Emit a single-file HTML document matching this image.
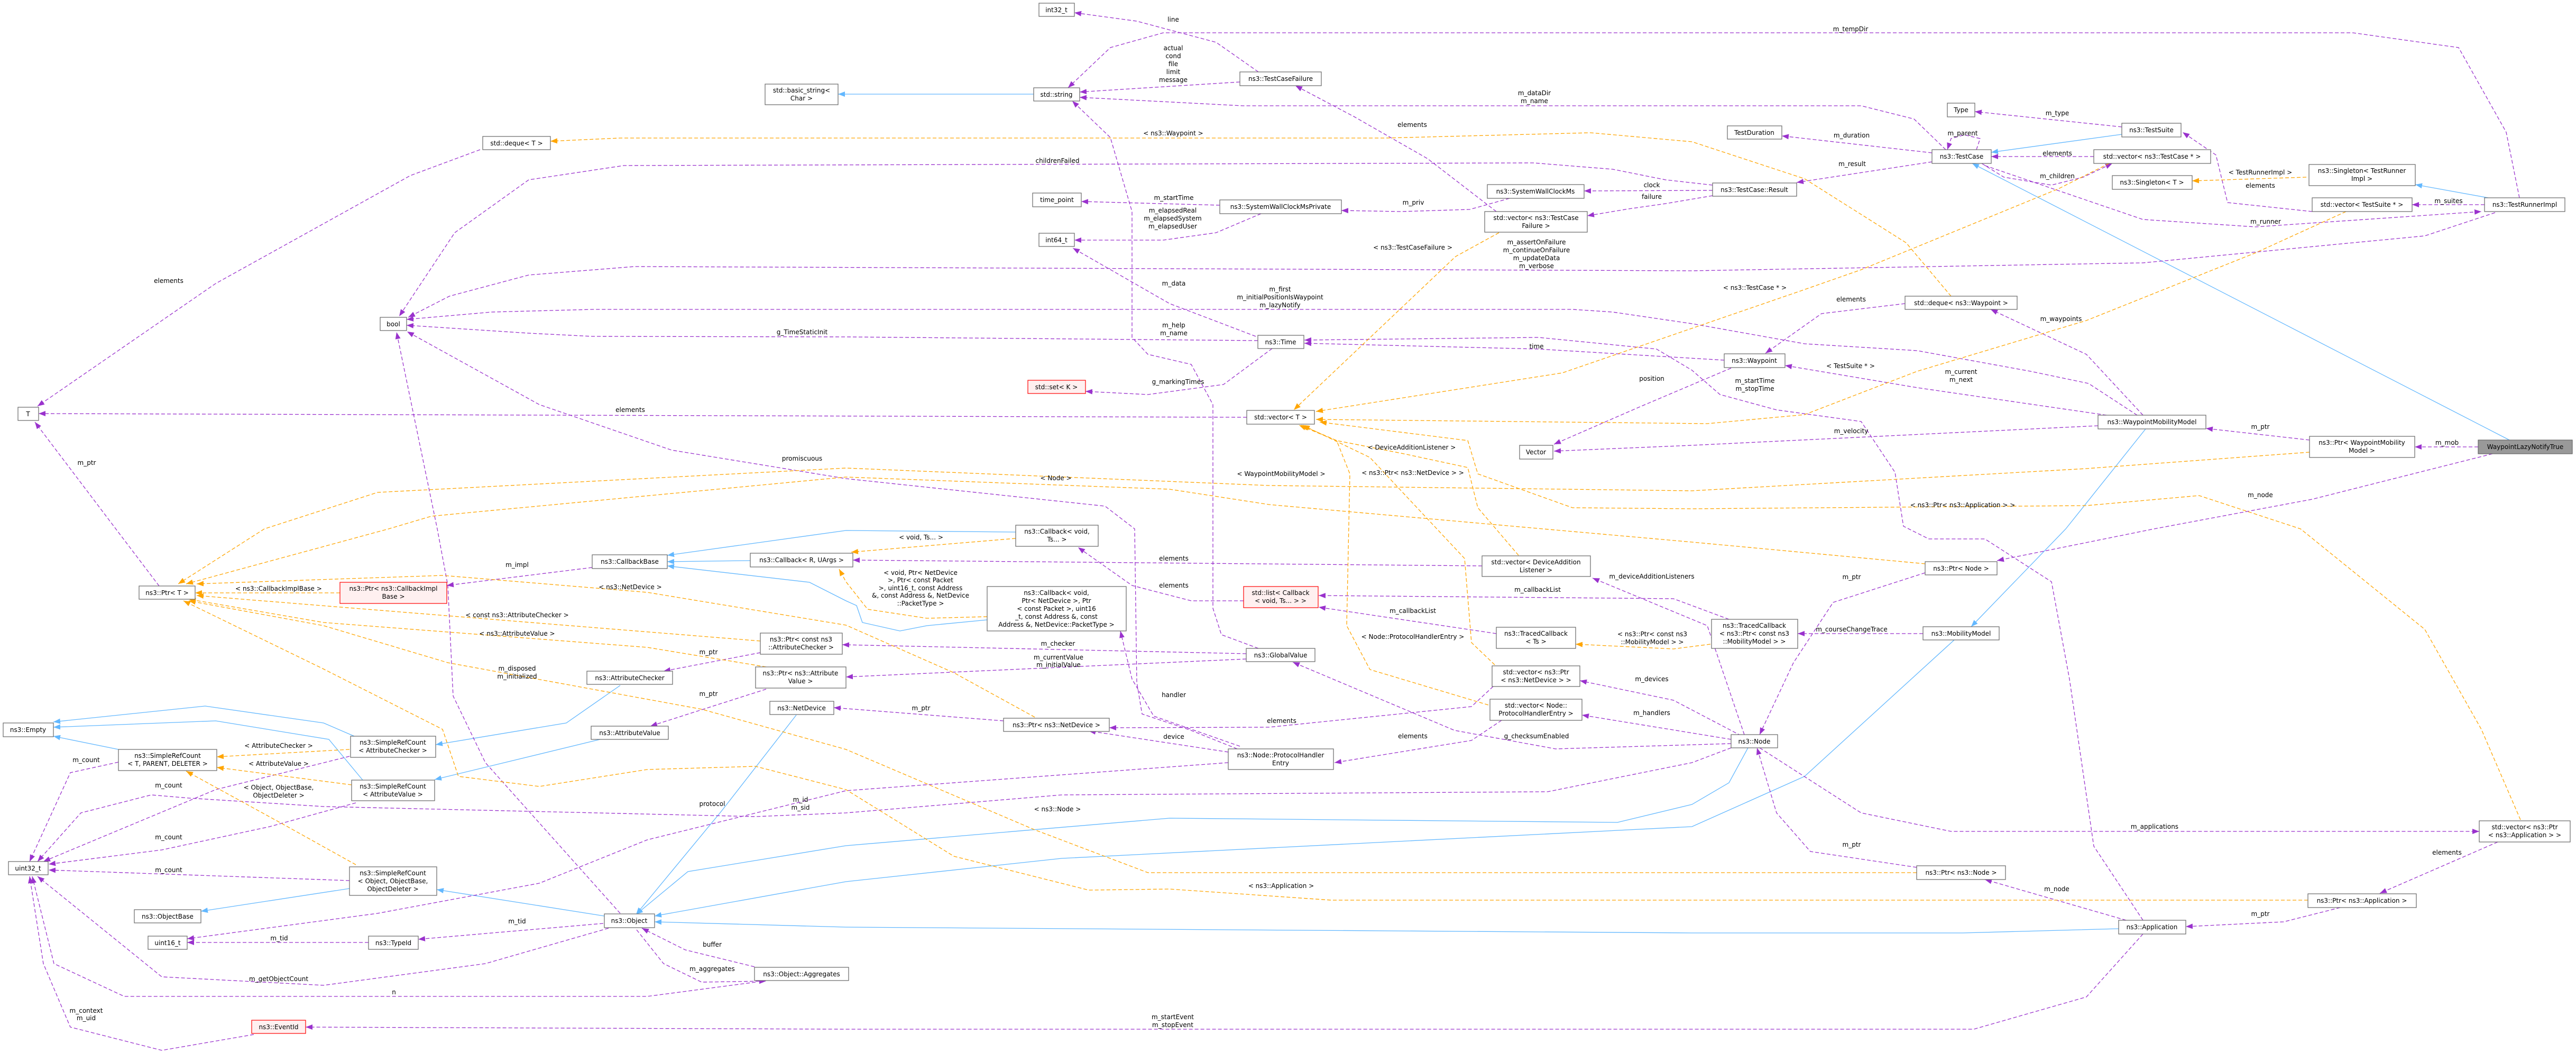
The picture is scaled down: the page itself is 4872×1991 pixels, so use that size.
<!DOCTYPE html>
<html><head><meta charset="utf-8"><style>
html,body{margin:0;padding:0;background:#fff;}
svg{display:block;}
text{font-family:"DejaVu Sans","Liberation Sans",sans-serif;font-size:12px;fill:#000;}
.n rect{fill:#fff;stroke:#666;stroke-width:1.2;}
.r rect{fill:#fff0f0;stroke:#f00;stroke-width:1.2;}
.g rect{fill:#999;stroke:#666;stroke-width:1.2;}
.p{fill:none;stroke:#9a32cd;stroke-width:1.3;stroke-dasharray:7,4;marker-end:url(#ap);}
.o{fill:none;stroke:#ffa500;stroke-width:1.3;stroke-dasharray:7,4;marker-end:url(#ao);}
.b{fill:none;stroke:#63b8ff;stroke-width:1.3;marker-end:url(#ab);}
.c{text-anchor:middle;}
</style></head><body>
<svg width="4872" height="1991" viewBox="0 0 4872 1991" xmlns="http://www.w3.org/2000/svg">
<defs>
<marker id="ap" markerUnits="userSpaceOnUse" markerWidth="14" markerHeight="12" refX="13" refY="6" orient="auto"><path d="M0,1 L13,6 L0,11 z" fill="#9a32cd"/></marker>
<marker id="ao" markerUnits="userSpaceOnUse" markerWidth="14" markerHeight="12" refX="13" refY="6" orient="auto"><path d="M0,1 L13,6 L0,11 z" fill="#ffa500"/></marker>
<marker id="ab" markerUnits="userSpaceOnUse" markerWidth="14" markerHeight="12" refX="13" refY="6" orient="auto"><path d="M0,1 L13,6 L0,11 z" fill="#63b8ff"/></marker>
</defs>

<!-- blue inheritance -->
<path class="b" d="M1955,178 L1585,178"/>
<path class="b" d="M4013,254 L3766,288"/>
<path class="b" d="M4746,832 L3730,309"/>
<path class="b" d="M4706,374 L4568,349"/>
<path class="b" d="M4058,811 L3907,1000 L3728,1185"/>
<path class="b" d="M3306,1414 L3270,1480 L3200,1521 L3059,1555 L2212,1547 L1600,1599 L1301,1648 L1203,1729"/>
<path class="b" d="M3696,1210 L3413,1468 L3200,1563 L2008,1623 L1600,1667 L1238,1732"/>
<path class="b" d="M4007,1756 L3712,1764 L3200,1764 L1600,1753 L1238,1743"/>
<path class="b" d="M1506,1352 L1365,1533 L1203,1729"/>
<path class="b" d="M1143,1732 L826,1682"/>
<path class="b" d="M661,1680 L380,1723"/>
<path class="b" d="M670,1392 L612,1367 L388,1335 L101,1365"/>
<path class="b" d="M686,1475 L622,1398 L408,1363 L101,1375"/>
<path class="b" d="M224,1417 L101,1392"/>
<path class="b" d="M1173,1296 L1071,1367 L824,1408"/>
<path class="b" d="M1135,1398 L822,1474"/>
<path class="b" d="M1419,1060 L1262,1062"/>
<path class="b" d="M1921,1006 L1600,1003 L1262,1050"/>
<path class="b" d="M1867,1172 L1753,1183 L1702,1193 L1631,1177 L1620,1145 L1600,1136 L1531,1101 L1262,1070"/>

<!-- purple -->
<path class="p" d="M2380,136 L2300,80 L2150,40 L2032,24"/>
<path class="p" d="M2345,155 L2042,174"/>
<path class="p" d="M4765,374 L4740,250 L4650,90 L4450,62 L2340,62 L2200,62 L2100,90 L2020,166"/>
<path class="p" d="M3680,283 L3620,225 L3520,200 L3400,200 L2350,200 L2042,184"/>
<path class="p" d="M2830,400 L2700,300 L2560,220 L2450,162"/>
<path class="p" d="M2307,388 L2045,381"/>
<path class="p" d="M2385,404 L2300,440 L2200,454 L2032,454"/>
<path class="p" d="M2855,375 L2780,396 L2650,400 L2537,398"/>
<path class="p" d="M3239,360 L2996,361"/>
<path class="p" d="M3239,370 L3150,385 L3080,395 L3002,408"/>
<path class="p" d="M3654,306 L3398,345"/>
<path class="p" d="M3654,289 L3370,257"/>
<path class="p" d="M3738,283 L3745,262 L3715,255 L3690,262 L3683,283"/>
<path class="p" d="M4013,240 L3735,211"/>
<path class="p" d="M3960,296 L3766,296"/>
<path class="p" d="M3748,309 L3790,335 L3880,350 L3940,335 L3995,309"/>
<path class="p" d="M4373,400 L4213,383 L4191,293 L4128,250"/>
<path class="p" d="M4699,387 L4562,387"/>
<path class="p" d="M3754,313 L4053,415 L4266,429 L4693,400"/>
<path class="p" d="M4719,402 L4586,446 L4053,497 L3200,512 L1200,504 L1000,520 L850,560 L772,600"/>
<path class="p" d="M3239,350 L3150,340 L3050,320 L2900,308 L1180,313 L1000,340 L860,440 L755,598"/>
<path class="p" d="M2379,644 L1600,637 L1120,636 L1000,630 L769,615"/>
<path class="p" d="M4042,785 L3950,725 L3840,702 L3626,663 L3413,650 L3200,612 L3050,590 L2974,585 L1122,585 L930,590 L769,604"/>
<path class="p" d="M2375,636 L2212,574 L2029,469"/>
<path class="p" d="M2406,659 L2314,727 L2171,746 L2053,740"/>
<path class="p" d="M3261,681 L2910,660 L2467,649"/>
<path class="p" d="M4053,1740 L3960,1600 L3914,1284 L3880,1100 L3754,1019 L3648,1019 L3600,995 L3584,893 L3520,797 L3360,775 L3253,746 L3200,700 L3133,660 L2910,638 L2467,643"/>
<path class="p" d="M3274,696 L3102,769 L2939,840"/>
<path class="p" d="M3968,805 L3200,842 L2939,853"/>
<path class="p" d="M3984,785 L3626,733 L3376,691"/>
<path class="p" d="M3603,574 L3445,593 L3339,668"/>
<path class="p" d="M4053,785 L3946,670 L3765,585"/>
<path class="p" d="M4368,832 L4172,810"/>
<path class="p" d="M4687,845 L4567,845"/>
<path class="p" d="M4714,858 L4373,944 L4074,1000 L3777,1060"/>
<path class="p" d="M3641,1083 L3467,1139 L3392,1253 L3328,1389"/>
<path class="p" d="M3637,1198 L3400,1198"/>
<path class="p" d="M3299,1389 L3229,1183 L3012,1093"/>
<path class="p" d="M3270,1171 L3165,1132 L2494,1126"/>
<path class="p" d="M2830,1198 L2494,1148"/>
<path class="p" d="M3293,1391 L3165,1324 L2988,1287"/>
<path class="p" d="M3274,1398 L2992,1352"/>
<path class="p" d="M3274,1406 L2942,1416 L2751,1381 L2445,1252"/>
<path class="p" d="M2840,1362 L2783,1400 L2524,1442"/>
<path class="p" d="M2824,1298 L2783,1336 L2400,1375 L2098,1376"/>
<path class="p" d="M2323,1422 L2059,1382"/>
<path class="p" d="M2345,1411 L2182,1354 L2141,1284 L2119,1193"/>
<path class="p" d="M2352,1136 L2253,1136 L2141,1107 L2039,1035"/>
<path class="p" d="M2803,1070 L1613,1059"/>
<path class="p" d="M2357,1236 L1593,1219"/>
<path class="p" d="M2357,1246 L1600,1280"/>
<path class="p" d="M1898,1363 L1577,1338"/>
<path class="p" d="M1438,1234 L1255,1269"/>
<path class="p" d="M1449,1303 L1230,1373"/>
<path class="p" d="M1120,1073 L845,1107"/>
<path class="p" d="M301,1108 L219,1000 L66,798"/>
<path class="p" d="M908,283 L776,332 L408,536 L71,768"/>
<path class="p" d="M2358,789 L73,782"/>
<path class="p" d="M2380,1226 L2310,1200 L2294,1150 L2294,765 L2253,689 L2171,670 L2141,638 L2141,400 L2100,260 L2028,191"/>
<path class="p" d="M2340,1416 L2250,1380 L2160,1350 L2150,1290 L2146,1000 L2090,957 L1600,905 L1270,851 L1020,765 L770,627"/>
<path class="p" d="M1173,1727 L918,1442 L857,1316 L847,1107 L827,1000 L750,628"/>
<path class="p" d="M2323,1442 L1600,1495 L1224,1588 L1020,1670 L714,1727 L354,1775"/>
<path class="p" d="M3274,1414 L3200,1442 L2927,1497 L2008,1503 L1600,1537 L1429,1544 L612,1525 L357,1509 L286,1503 L153,1537 L71,1629"/>
<path class="p" d="M224,1441 L133,1461 L56,1629"/>
<path class="p" d="M661,1430 L408,1493 L82,1629"/>
<path class="p" d="M673,1518 L510,1563 L306,1607 L92,1634"/>
<path class="p" d="M661,1665 L92,1645"/>
<path class="p" d="M1151,1755 L918,1822 L612,1863 L306,1847 L71,1657"/>
<path class="p" d="M1429,1857 L1224,1884 L235,1884 L102,1822 L61,1657"/>
<path class="p" d="M480,1956 L306,1986 L133,1942 L82,1822 L56,1657"/>
<path class="p" d="M1141,1746 L791,1776"/>
<path class="p" d="M697,1782 L354,1782"/>
<path class="p" d="M1427,1828 L1296,1796 L1214,1755"/>
<path class="p" d="M1204,1758 L1255,1822 L1327,1857 L1449,1855"/>
<path class="p" d="M4053,1766 L3946,1885 L3733,1946 L3200,1946 L1600,1946 L578,1942"/>
<path class="p" d="M3328,1414 L3520,1537 L3690,1572 L4689,1572"/>
<path class="p" d="M4724,1592 L4501,1689"/>
<path class="p" d="M4426,1716 L4319,1743 L4134,1752"/>
<path class="p" d="M4021,1740 L3754,1663"/>
<path class="p" d="M3625,1640 L3424,1610 L3360,1537 L3323,1414"/>

<!-- orange -->
<path class="o" d="M3690,560 L3605,459 L3413,338 L3200,268 L3008,251 L2620,261 L1600,261 L1173,261 L1041,267"/>
<path class="o" d="M2835,440 L2753,485 L2447,775"/>
<path class="o" d="M3989,309 L3893,357 L3520,510 L3400,552 L2955,705 L2489,778"/>
<path class="o" d="M4437,400 L4266,478 L3946,606 L3626,702 L3413,784 L3229,801 L2489,793"/>
<path class="o" d="M4362,335 L4146,342"/>
<path class="o" d="M2872,1050 L2795,960 L2776,884 L2655,858 L2528,833 L2461,804"/>
<path class="o" d="M2827,1257 L2783,1215 L2770,1056 L2591,865 L2464,804"/>
<path class="o" d="M2815,1333 L2591,1266 L2547,1183 L2553,896 L2528,833 L2457,804"/>
<path class="o" d="M4767,1550 L4693,1379 L4586,1190 L4351,1000 L4159,937 L3946,956 L3200,962 L2974,960 L2795,896 L2776,833 L2496,798"/>
<path class="o" d="M4368,855 L3946,886 L3200,928 L2400,918 L1600,885 L714,931 L500,1000 L337,1104"/>
<path class="o" d="M3641,1066 L3200,1025 L2400,954 L2212,925 L1600,902 L816,976 L735,1000 L352,1104"/>
<path class="o" d="M643,1121 L369,1121"/>
<path class="o" d="M1957,1356 L1804,1272 L1600,1182 L1224,1120 L837,1088 L372,1104"/>
<path class="o" d="M1438,1212 L372,1126"/>
<path class="o" d="M1449,1261 L1224,1224 L612,1177 L357,1133"/>
<path class="o" d="M3625,1650 L3200,1650 L2171,1650 L1957,1569 L1600,1417 L1327,1341 L847,1253 L612,1183 L357,1136"/>
<path class="o" d="M4365,1702 L3200,1702 L2518,1702 L2212,1681 L2059,1683 L1804,1619 L1600,1493 L1429,1449 L1224,1455 L1020,1487 L867,1468 L837,1379 L612,1265 L347,1136"/>
<path class="o" d="M661,1417 L410,1431"/>
<path class="o" d="M665,1484 L410,1451"/>
<path class="o" d="M673,1635 L531,1556 L352,1458"/>
<path class="o" d="M1921,1018 L1610,1044"/>
<path class="o" d="M1867,1166 L1753,1169 L1641,1152 L1600,1100 L1587,1076"/>
<path class="o" d="M3235,1218 L3165,1227 L2980,1218"/>

<!-- edge labels -->
<g class="c">
<text x="2219" y="41">line</text>
<text x="2219" y="95">actual</text><text x="2219" y="110">cond</text><text x="2219" y="125">file</text><text x="2219" y="140">limit</text><text x="2219" y="155">message</text>
<text x="3500" y="59">m_tempDir</text>
<text x="2902" y="180">m_dataDir</text><text x="2902" y="195">m_name</text>
<text x="2671" y="240">elements</text>
<text x="2219" y="256">&lt; ns3::Waypoint &gt;</text>
<text x="2000" y="308">childrenFailed</text>
<text x="2220" y="378">m_startTime</text>
<text x="2218" y="402">m_elapsedReal</text><text x="2218" y="417">m_elapsedSystem</text><text x="2218" y="432">m_elapsedUser</text>
<text x="2673" y="387">m_priv</text>
<text x="3124" y="354">clock</text>
<text x="3124" y="376">failure</text>
<text x="2672" y="472">&lt; ns3::TestCaseFailure &gt;</text>
<text x="2906" y="462">m_assertOnFailure</text><text x="2906" y="477">m_continueOnFailure</text><text x="2906" y="492">m_updateData</text><text x="2906" y="507">m_verbose</text>
<text x="2220" y="540">m_data</text>
<text x="2421" y="551">m_first</text><text x="2421" y="566">m_initialPositionIsWaypoint</text><text x="2421" y="581">m_lazyNotify</text>
<text x="2220" y="619">m_help</text><text x="2220" y="634">m_name</text>
<text x="1517" y="632">g_TimeStaticInit</text>
<text x="2906" y="659">time</text>
<text x="2228" y="726">g_markingTimes</text>
<text x="3124" y="720">position</text>
<text x="1192" y="779">elements</text>
<text x="319" y="535">elements</text>
<text x="2670" y="850">&lt; DeviceAdditionListener &gt;</text>
<text x="2423" y="900">&lt; WaypointMobilityModel &gt;</text>
<text x="2672" y="898">&lt; ns3::Ptr&lt; ns3::NetDevice &gt; &gt;</text>
<text x="1997" y="908">&lt; Node &gt;</text>
<text x="1517" y="871">promiscuous</text>
<text x="164" y="879">m_ptr</text>
<text x="3503" y="314">m_result</text>
<text x="3502" y="260">m_duration</text>
<text x="3712" y="256">m_parent</text>
<text x="3891" y="218">m_type</text>
<text x="3891" y="294">elements</text>
<text x="3891" y="337">m_children</text>
<text x="4275" y="330">&lt; TestRunnerImpl &gt;</text>
<text x="4275" y="355">elements</text>
<text x="4631" y="384">m_suites</text>
<text x="4285" y="423">m_runner</text>
<text x="3319" y="548">&lt; ns3::TestCase * &gt;</text>
<text x="3501" y="570">elements</text>
<text x="3898" y="607">m_waypoints</text>
<text x="3500" y="696">&lt; TestSuite * &gt;</text>
<text x="3709" y="707">m_current</text><text x="3709" y="722">m_next</text>
<text x="3319" y="724">m_startTime</text><text x="3319" y="739">m_stopTime</text>
<text x="3501" y="819">m_velocity</text>
<text x="4275" y="811">m_ptr</text>
<text x="4628" y="841">m_mob</text>
<text x="4275" y="940">m_node</text>
<text x="3712" y="959">&lt; ns3::Ptr&lt; ns3::Application &gt; &gt;</text>
<text x="3502" y="1095">m_ptr</text>
<text x="3502" y="1194">m_courseChangeTrace</text>
<text x="1742" y="1020">&lt; void, Ts... &gt;</text>
<text x="2220" y="1060">elements</text>
<text x="2220" y="1111">elements</text>
<text x="3124" y="1094">m_deviceAdditionListeners</text>
<text x="2908" y="1119">m_callbackList</text>
<text x="2672" y="1159">m_callbackList</text>
<text x="3125" y="1203">&lt; ns3::Ptr&lt; const ns3</text><text x="3125" y="1218">::MobilityModel &gt; &gt;</text>
<text x="2672" y="1208">&lt; Node::ProtocolHandlerEntry &gt;</text>
<text x="3124" y="1288">m_devices</text>
<text x="3124" y="1352">m_handlers</text>
<text x="2906" y="1396">g_checksumEnabled</text>
<text x="2672" y="1396">elements</text>
<text x="2424" y="1367">elements</text>
<text x="2220" y="1397">device</text>
<text x="2220" y="1318">handler</text>
<text x="2001" y="1221">m_checker</text>
<text x="2002" y="1247">m_currentValue</text><text x="2002" y="1261">m_initialValue</text>
<text x="1742" y="1343">m_ptr</text>
<text x="1741" y="1087">&lt; void, Ptr&lt; NetDevice</text><text x="1741" y="1101">&gt;, Ptr&lt; const Packet</text><text x="1741" y="1116">&gt;, uint16_t, const Address</text><text x="1741" y="1130">&amp;, const Address &amp;, NetDevice</text><text x="1741" y="1145">::PacketType &gt;</text>
<text x="978" y="1072">m_impl</text>
<text x="527" y="1117">&lt; ns3::CallbackImplBase &gt;</text>
<text x="1192" y="1114">&lt; ns3::NetDevice &gt;</text>
<text x="978" y="1167">&lt; const ns3::AttributeChecker &gt;</text>
<text x="978" y="1202">&lt; ns3::AttributeValue &gt;</text>
<text x="1340" y="1237">m_ptr</text>
<text x="1340" y="1316">m_ptr</text>
<text x="978" y="1268">m_disposed</text><text x="978" y="1283">m_initialized</text>
<text x="527" y="1414">&lt; AttributeChecker &gt;</text>
<text x="527" y="1448">&lt; AttributeValue &gt;</text>
<text x="527" y="1493">&lt; Object, ObjectBase,</text><text x="527" y="1508">ObjectDeleter &gt;</text>
<text x="163" y="1441">m_count</text>
<text x="319" y="1489">m_count</text>
<text x="319" y="1587">m_count</text>
<text x="319" y="1649">m_count</text>
<text x="1347" y="1524">protocol</text>
<text x="1514" y="1516">m_id</text><text x="1514" y="1531">m_sid</text>
<text x="2000" y="1534">&lt; ns3::Node &gt;</text>
<text x="2423" y="1679">&lt; ns3::Application &gt;</text>
<text x="978" y="1746">m_tid</text>
<text x="528" y="1778">m_tid</text>
<text x="1347" y="1790">buffer</text>
<text x="1347" y="1836">m_aggregates</text>
<text x="527" y="1855">m_getObjectCount</text>
<text x="745" y="1880">n</text>
<text x="163" y="1915">m_context</text><text x="163" y="1929">m_uid</text>
<text x="2218" y="1927">m_startEvent</text><text x="2218" y="1942">m_stopEvent</text>
<text x="4075" y="1567">m_applications</text>
<text x="4628" y="1616">elements</text>
<text x="4275" y="1732">m_ptr</text>
<text x="3890" y="1685">m_node</text>
<text x="3502" y="1601">m_ptr</text>
</g>

<!-- nodes -->
<g class="c">
<g class="n"><rect x="1965" y="6" width="67" height="25"/><text x="1998" y="23">int32_t</text></g>
<g class="n"><rect x="2345" y="136" width="154" height="26"/><text x="2422" y="153">ns3::TestCaseFailure</text></g>
<g class="n"><rect x="1955" y="166" width="87" height="25"/><text x="1998" y="183">std::string</text></g>
<g class="n"><rect x="1447" y="159" width="138" height="39"/><text x="1516" y="175">std::basic_string&lt;</text><text x="1516" y="190">Char &gt;</text></g>
<g class="n"><rect x="913" y="258" width="128" height="25"/><text x="977" y="275">std::deque&lt; T &gt;</text></g>
<g class="n"><rect x="1953" y="365" width="92" height="26"/><text x="1999" y="382">time_point</text></g>
<g class="n"><rect x="2307" y="378" width="230" height="26"/><text x="2422" y="395">ns3::SystemWallClockMsPrivate</text></g>
<g class="n"><rect x="2813" y="349" width="183" height="26"/><text x="2904" y="366">ns3::SystemWallClockMs</text></g>
<g class="n"><rect x="2808" y="400" width="194" height="39"/><text x="2905" y="416">std::vector&lt; ns3::TestCase</text><text x="2905" y="431">Failure &gt;</text></g>
<g class="n"><rect x="1965" y="441" width="67" height="25"/><text x="1998" y="458">int64_t</text></g>
<g class="n"><rect x="719" y="600" width="50" height="25"/><text x="744" y="617">bool</text></g>
<g class="n"><rect x="2379" y="634" width="87" height="25"/><text x="2422" y="651">ns3::Time</text></g>
<g class="r"><rect x="1944" y="719" width="109" height="25"/><text x="1998" y="736">std::set&lt; K &gt;</text></g>
<g class="n"><rect x="34" y="770" width="39" height="25"/><text x="53" y="787">T</text></g>
<g class="n"><rect x="2358" y="776" width="128" height="26"/><text x="2422" y="793">std::vector&lt; T &gt;</text></g>
<g class="n"><rect x="2874" y="842" width="63" height="26"/><text x="2905" y="859">Vector</text></g>
<g class="n"><rect x="1921" y="993" width="156" height="40"/><text x="1999" y="1009">ns3::Callback&lt; void,</text><text x="1999" y="1024">Ts... &gt;</text></g>
<g class="n"><rect x="1120" y="1049" width="142" height="26"/><text x="1191" y="1066">ns3::CallbackBase</text></g>
<g class="n"><rect x="1419" y="1046" width="194" height="26"/><text x="1516" y="1063">ns3::Callback&lt; R, UArgs &gt;</text></g>
<g class="n"><rect x="2803" y="1051" width="205" height="39"/><text x="2905" y="1067">std::vector&lt; DeviceAddition</text><text x="2905" y="1082">Listener &gt;</text></g>
<g class="n"><rect x="263" y="1108" width="106" height="25"/><text x="316" y="1125">ns3::Ptr&lt; T &gt;</text></g>
<g class="r"><rect x="643" y="1101" width="202" height="40"/><text x="744" y="1117">ns3::Ptr&lt; ns3::CallbackImpl</text><text x="744" y="1132">Base &gt;</text></g>
<g class="r"><rect x="2352" y="1109" width="141" height="40"/><text x="2422" y="1125">std::list&lt; Callback</text><text x="2422" y="1140">&lt; void, Ts... &gt; &gt;</text></g>
<g class="n"><rect x="1867" y="1109" width="263" height="84"/><text x="1998" y="1125">ns3::Callback&lt; void,</text><text x="1998" y="1140">Ptr&lt; NetDevice &gt;, Ptr</text><text x="1998" y="1155">&lt; const Packet &gt;, uint16</text><text x="1998" y="1170">_t, const Address &amp;, const</text><text x="1998" y="1185">Address &amp;, NetDevice::PacketType &gt;</text></g>
<g class="n"><rect x="2830" y="1186" width="150" height="40"/><text x="2905" y="1202">ns3::TracedCallback</text><text x="2905" y="1217">&lt; Ts &gt;</text></g>
<g class="n"><rect x="1438" y="1197" width="155" height="40"/><text x="1515" y="1213">ns3::Ptr&lt; const ns3</text><text x="1515" y="1228">::AttributeChecker &gt;</text></g>
<g class="n"><rect x="2357" y="1226" width="130" height="25"/><text x="2422" y="1243">ns3::GlobalValue</text></g>
<g class="n"><rect x="2822" y="1259" width="166" height="39"/><text x="2905" y="1275">std::vector&lt; ns3::Ptr</text><text x="2905" y="1290">&lt; ns3::NetDevice &gt; &gt;</text></g>
<g class="n"><rect x="1429" y="1261" width="171" height="40"/><text x="1514" y="1277">ns3::Ptr&lt; ns3::Attribute</text><text x="1514" y="1292">Value &gt;</text></g>
<g class="n"><rect x="1110" y="1269" width="162" height="25"/><text x="1191" y="1286">ns3::AttributeChecker</text></g>
<g class="n"><rect x="2818" y="1322" width="174" height="40"/><text x="2905" y="1338">std::vector&lt; Node::</text><text x="2905" y="1353">ProtocolHandlerEntry &gt;</text></g>
<g class="n"><rect x="1456" y="1326" width="121" height="25"/><text x="1516" y="1343">ns3::NetDevice</text></g>
<g class="n"><rect x="1898" y="1358" width="200" height="25"/><text x="1998" y="1375">ns3::Ptr&lt; ns3::NetDevice &gt;</text></g>
<g class="n"><rect x="6" y="1367" width="95" height="26"/><text x="53" y="1384">ns3::Empty</text></g>
<g class="n"><rect x="1118" y="1373" width="146" height="25"/><text x="1191" y="1390">ns3::AttributeValue</text></g>
<g class="n"><rect x="663" y="1392" width="161" height="40"/><text x="743" y="1408">ns3::SimpleRefCount</text><text x="743" y="1423">&lt; AttributeChecker &gt;</text></g>
<g class="n"><rect x="2323" y="1416" width="199" height="39"/><text x="2422" y="1432">ns3::Node::ProtocolHandler</text><text x="2422" y="1447">Entry</text></g>
<g class="n"><rect x="224" y="1417" width="186" height="40"/><text x="317" y="1433">ns3::SimpleRefCount</text><text x="317" y="1448">&lt; T, PARENT, DELETER &gt;</text></g>
<g class="n"><rect x="665" y="1475" width="157" height="39"/><text x="743" y="1491">ns3::SimpleRefCount</text><text x="743" y="1506">&lt; AttributeValue &gt;</text></g>
<g class="n"><rect x="16" y="1629" width="75" height="25"/><text x="53" y="1646">uint32_t</text></g>
<g class="n"><rect x="661" y="1639" width="165" height="54"/><text x="743" y="1655">ns3::SimpleRefCount</text><text x="743" y="1670">&lt; Object, ObjectBase,</text><text x="743" y="1685">ObjectDeleter &gt;</text></g>
<g class="n"><rect x="254" y="1720" width="126" height="25"/><text x="317" y="1737">ns3::ObjectBase</text></g>
<g class="n"><rect x="1143" y="1728" width="95" height="26"/><text x="1190" y="1745">ns3::Object</text></g>
<g class="n"><rect x="280" y="1770" width="74" height="25"/><text x="317" y="1787">uint16_t</text></g>
<g class="n"><rect x="697" y="1770" width="94" height="25"/><text x="744" y="1787">ns3::TypeId</text></g>
<g class="n"><rect x="1427" y="1829" width="178" height="25"/><text x="1516" y="1846">ns3::Object::Aggregates</text></g>
<g class="r"><rect x="476" y="1929" width="102" height="25"/><text x="527" y="1946">ns3::EventId</text></g>
<g class="n"><rect x="3683" y="195" width="52" height="26"/><text x="3709" y="212">Type</text></g>
<g class="n"><rect x="4013" y="233" width="112" height="26"/><text x="4069" y="250">ns3::TestSuite</text></g>
<g class="n"><rect x="3267" y="238" width="103" height="25"/><text x="3318" y="255">TestDuration</text></g>
<g class="n"><rect x="3654" y="283" width="112" height="26"/><text x="3710" y="300">ns3::TestCase</text></g>
<g class="n"><rect x="3960" y="283" width="221" height="26"/><text x="4070" y="300">std::vector&lt; ns3::TestCase * &gt;</text></g>
<g class="n"><rect x="4367" y="311" width="201" height="40"/><text x="4467" y="327">ns3::Singleton&lt; TestRunner</text><text x="4467" y="342">Impl &gt;</text></g>
<g class="n"><rect x="3995" y="332" width="151" height="26"/><text x="4070" y="349">ns3::Singleton&lt; T &gt;</text></g>
<g class="n"><rect x="3239" y="346" width="159" height="25"/><text x="3318" y="363">ns3::TestCase::Result</text></g>
<g class="n"><rect x="4373" y="374" width="189" height="26"/><text x="4467" y="391">std::vector&lt; TestSuite * &gt;</text></g>
<g class="n"><rect x="4699" y="374" width="152" height="26"/><text x="4775" y="391">ns3::TestRunnerImpl</text></g>
<g class="n"><rect x="3603" y="560" width="212" height="25"/><text x="3709" y="577">std::deque&lt; ns3::Waypoint &gt;</text></g>
<g class="n"><rect x="3261" y="669" width="115" height="26"/><text x="3318" y="686">ns3::Waypoint</text></g>
<g class="n"><rect x="3968" y="785" width="204" height="26"/><text x="4070" y="802">ns3::WaypointMobilityModel</text></g>
<g class="n"><rect x="4368" y="825" width="199" height="40"/><text x="4467" y="841">ns3::Ptr&lt; WaypointMobility</text><text x="4467" y="856">Model &gt;</text></g>
<g class="g"><rect x="4687" y="832" width="178" height="26"/><text x="4776" y="849">WaypointLazyNotifyTrue</text></g>
<g class="n"><rect x="3641" y="1062" width="136" height="25"/><text x="3709" y="1079">ns3::Ptr&lt; Node &gt;</text></g>
<g class="n"><rect x="3237" y="1171" width="163" height="55"/><text x="3318" y="1187">ns3::TracedCallback</text><text x="3318" y="1202">&lt; ns3::Ptr&lt; const ns3</text><text x="3318" y="1217">::MobilityModel &gt; &gt;</text></g>
<g class="n"><rect x="3637" y="1185" width="144" height="25"/><text x="3709" y="1202">ns3::MobilityModel</text></g>
<g class="n"><rect x="3274" y="1389" width="88" height="25"/><text x="3318" y="1406">ns3::Node</text></g>
<g class="n"><rect x="4689" y="1552" width="172" height="40"/><text x="4775" y="1568">std::vector&lt; ns3::Ptr</text><text x="4775" y="1583">&lt; ns3::Application &gt; &gt;</text></g>
<g class="n"><rect x="3625" y="1637" width="168" height="26"/><text x="3709" y="1654">ns3::Ptr&lt; ns3::Node &gt;</text></g>
<g class="n"><rect x="4365" y="1690" width="205" height="26"/><text x="4467" y="1707">ns3::Ptr&lt; ns3::Application &gt;</text></g>
<g class="n"><rect x="4007" y="1740" width="127" height="26"/><text x="4070" y="1757">ns3::Application</text></g>
</g>
</svg>
</body></html>
